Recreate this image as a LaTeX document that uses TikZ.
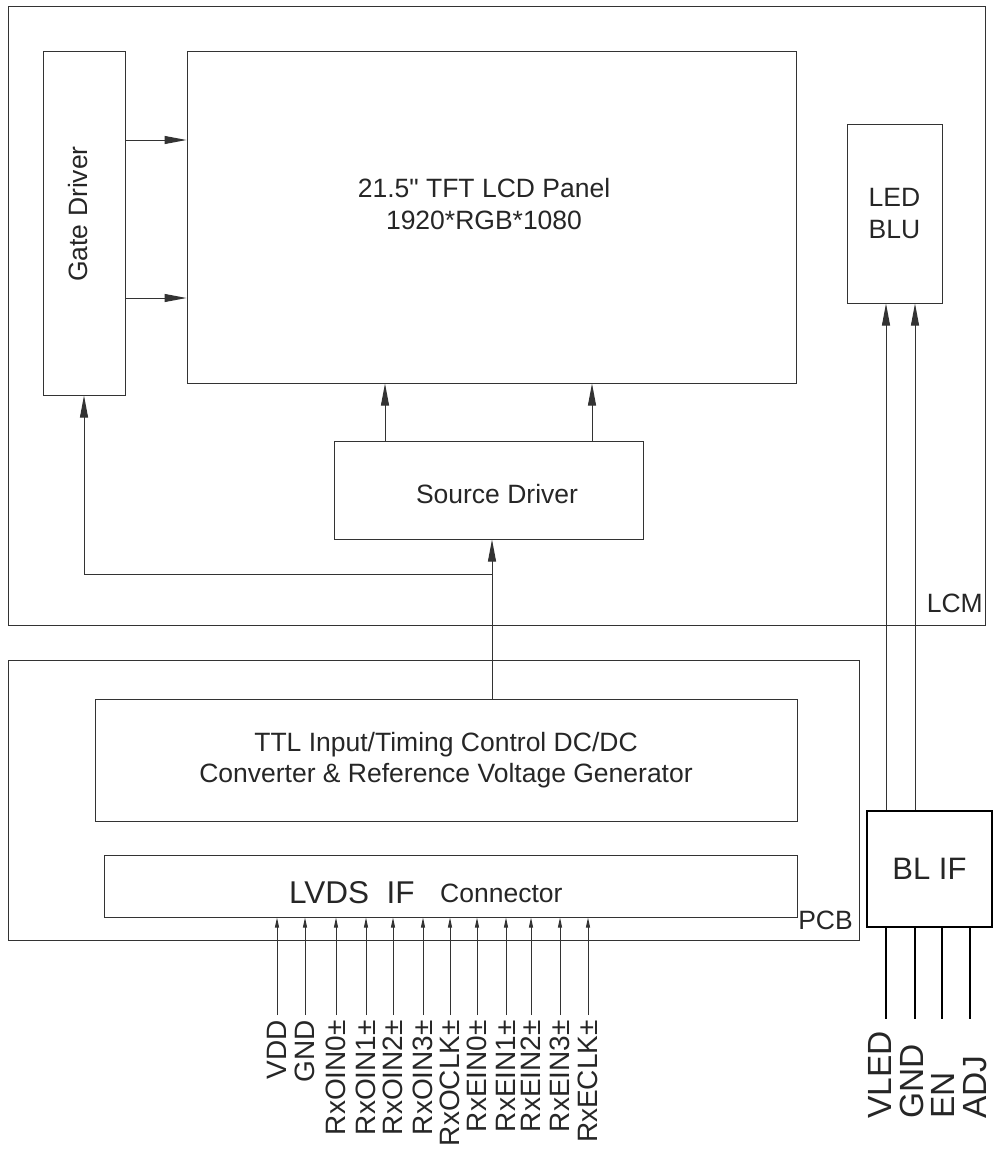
\documentclass[tikz,border=0pt]{standalone}
\usepackage{fontspec}
\setmainfont{Liberation Sans}
\usetikzlibrary{positioning, arrows.meta}

\begin{document}
\begin{tikzpicture}[
  x=1pt, y=-1pt,
  every node/.style={font=\fontsize{26.5}{31.5}\selectfont, text=black!85},
  block/.style={draw=black!80, line width=1pt, inner sep=0pt, align=center},
  frame/.style={draw=black!80, line width=1pt, inner sep=0pt},
  tag/.style={inner sep=0pt, anchor=base east},
  arr/.style={-{Triangle[length=22pt, width=8pt]}, draw=black!80, line width=1pt},
  pin/.style={-{Triangle[length=10pt, width=4pt]}, draw=black!80, line width=1pt},
  lead/.style={draw=black, line width=2.2pt},
  pinlabel/.style={rotate=90, anchor=east, inner sep=0pt,
                   font=\fontsize{28}{28}\selectfont},
  leadlabel/.style={rotate=90, anchor=west, inner sep=0pt,
                    font=\fontsize{33.5}{33.5}\selectfont}
]
\useasboundingbox (0,0) rectangle (993,1151);

% LCM side
\node[frame, minimum width=977pt, minimum height=619pt] (lcm) at (496.5,315.5) {};
\node[tag] (lcmtag) at (983,612) {LCM};

\node[block, minimum width=82pt, minimum height=344pt] (gate) at (84,223) {};
\node[rotate=90] (gatetext) at (78,214) {Gate Driver};
\node[block, minimum width=609pt, minimum height=332pt] (panel) at (491.5,217) {};
\node[align=center] (paneltext) at (484,204)
  {21.5\textquotedbl{} TFT LCD Panel\\1920*RGB*1080};
\node[block, minimum width=95pt, minimum height=179pt] (led) at (894.5,213.5) {LED\\BLU};
\node[block, minimum width=309pt, minimum height=98pt] (src) at (488.5,490) {};
\node (srctext) at (497,494) {Source Driver};

% PCB side
\node[frame, minimum width=851pt, minimum height=280pt] (pcb) at (433.5,800) {};
\node[tag] (pcbtag) at (853,929) {PCB};

\node[block, minimum width=702pt, minimum height=122pt] (ttl) at (446,760)
  {TTL Input/Timing Control DC/DC\\Converter \& Reference Voltage Generator};
\node[block, minimum width=693pt, minimum height=62pt] (lvds) at (450.5,886) {};
\node[inner sep=0pt, anchor=base west, font=\fontsize{31.5}{31.5}\selectfont]
  (lvdstext) at (289,903) {LVDS\ \ IF};
\node[inner sep=0pt, anchor=base west] (context) at (440,902) {Connector};

% backlight interface
\node[block, draw=black, line width=2pt, minimum width=125pt, minimum height=116pt,
      font=\fontsize{31}{31}\selectfont] (blif) at (929.5,869) {BL IF};

% wires
\draw[arr] ([yshift=83pt]gate.east) coordinate (g1) -- (g1 -| panel.west);
\draw[arr] ([yshift=-75pt]gate.east) coordinate (g2) -- (g2 -| panel.west);
\draw[arr] ([xshift=-103.5pt]src.north) coordinate (s1) -- (s1 |- panel.south);
\draw[arr] ([xshift=103.5pt]src.north) coordinate (s2) -- (s2 |- panel.south);

\coordinate (bus) at (492,574);
\draw[arr] (bus |- ttl.north) -- (bus |- src.south);
\draw[arr] (bus) -| (gate.south);

\draw[arr] ([xshift=20pt]blif.north west) coordinate (l1) -- (l1 |- led.south);
\draw[arr] ([xshift=49pt]blif.north west) coordinate (l2) -- (l2 |- led.south);

% LVDS pins
\foreach \x/\t [count=\i] in {277/VDD, 305/GND, 336/RxOIN0±, 366/RxOIN1±,
    393/RxOIN2±, 423/RxOIN3±, 450/RxOCLK±, 477/RxEIN0±, 506/RxEIN1±,
    531/RxEIN2±, 560/RxEIN3±, 588/RxECLK±} {
  \node[pinlabel] (p\i) at (\x,1020) {\t};
  \draw[pin] ([yshift=5pt]p\i.east) -- (p\i.east |- lvds.south);
}

% BL leads
\foreach \dx [count=\i] in {20, 49, 76, 104} {
  \draw[lead] ([xshift=\dx pt]blif.south west) -- ++(0,91);
}
\foreach \x/\t [count=\i] in {880/VLED, 912/GND, 943/EN, 975/ADJ} {
  \node[leadlabel] (b\i) at (\x,1119) {\t};
}
\end{tikzpicture}
\end{document}
